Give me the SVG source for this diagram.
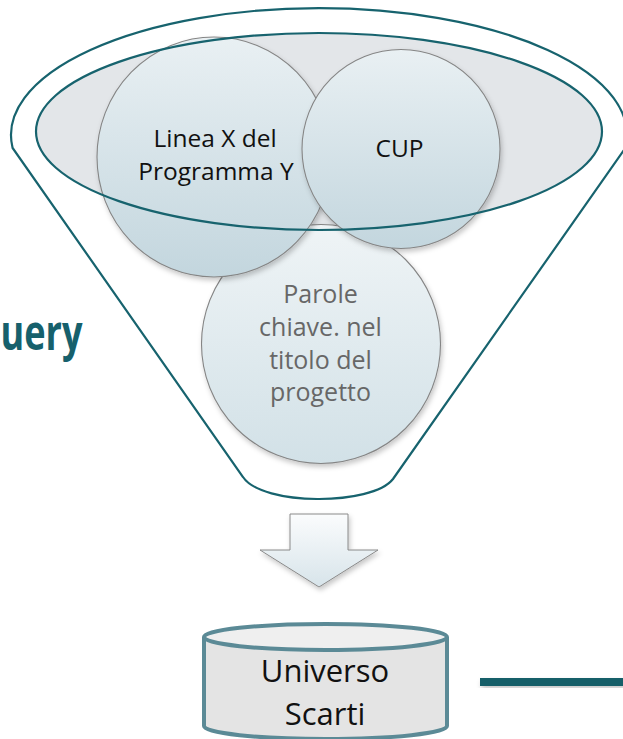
<svg xmlns="http://www.w3.org/2000/svg" width="623" height="739" viewBox="0 0 623 739">
  <style>
    .teal { fill: none; stroke: #17636e; stroke-width: 2.2; }
    .bubble { stroke: #858585; stroke-width: 1.1; }
    .t { font-family: "Open Sans", "Noto Sans", "DejaVu Sans", sans-serif; text-anchor: middle; }
    .dark { fill: #111111; font-size: 24.5px; }
    .faded { fill: #676767; font-size: 25px; }
    .cyl { font-size: 31px; fill: #111111; }
  </style>
  <defs>
    <linearGradient id="gBubble" x1="0" y1="0" x2="0" y2="1">
      <stop offset="0" stop-color="#e9f0f3"/>
      <stop offset="1" stop-color="#c3d6de"/>
    </linearGradient>
    <linearGradient id="gBubbleLight" x1="0" y1="0" x2="0" y2="1">
      <stop offset="0" stop-color="#eff4f6"/>
      <stop offset="1" stop-color="#d2e1e7"/>
    </linearGradient>
    <linearGradient id="gArrow" x1="0" y1="0" x2="0" y2="1">
      <stop offset="0" stop-color="#fbfcfd"/>
      <stop offset="1" stop-color="#d7e4ea"/>
    </linearGradient>
    <filter id="shadow" x="-20%" y="-20%" width="140%" height="140%">
      <feDropShadow dx="1.5" dy="3" stdDeviation="2.5" flood-color="#000000" flood-opacity="0.22"/>
    </filter>
  </defs>

  <g id="funnel">
    <path class="teal" d="M 12.6 148 A 308 127 0 1 1 625.4 148 L 393 479 C 372 506 262 506 243 477 Z"/>
    <ellipse id="funnel-rim-fill" cx="319" cy="131.5" rx="283" ry="98.5" fill="#e3e6e9"/>
  </g>

  <g id="node-parole" filter="url(#shadow)">
    <ellipse class="bubble" cx="321" cy="344" rx="119.5" ry="119.5" fill="url(#gBubbleLight)"/>
  </g>
  <g id="node-linea" filter="url(#shadow)">
    <ellipse class="bubble" cx="214" cy="157" rx="117" ry="120" fill="url(#gBubble)"/>
  </g>
  <g id="node-cup" filter="url(#shadow)">
    <ellipse class="bubble" cx="401" cy="149" rx="99" ry="99.5" fill="url(#gBubble)"/>
  </g>

  <g id="funnel-rim">
    <ellipse class="teal" cx="319" cy="131.5" rx="283" ry="98.5" stroke-width="2.5"/>
  </g>

  <g id="labels">
    <text class="t dark" x="215" y="147">Linea X del</text>
    <text class="t dark" x="216" y="180">Programma Y</text>
    <text class="t dark" x="399.5" y="157">CUP</text>
    <text class="t faded" x="320.5" y="303">Parole</text>
    <text class="t faded" x="320.5" y="336">chiave. nel</text>
    <text class="t faded" x="320.5" y="369">titolo del</text>
    <text class="t faded" x="320.5" y="401">progetto</text>
  </g>

  <g id="query-label">
    <text x="0.5" y="350" font-family="'Liberation Sans Narrow', 'Open Sans', sans-serif" font-weight="bold" font-size="48" fill="#16606c" textLength="82" lengthAdjust="spacingAndGlyphs">uery</text>
  </g>

  <g id="arrow" filter="url(#shadow)">
    <polygon points="290,514 348,514 348,550 378,550 319,587 260,550 290,550" fill="url(#gArrow)" stroke="#8a8a8a" stroke-width="1"/>
  </g>

  <g id="node-universo">
    <path d="M 204 637 L 204 726 A 121.5 13 0 0 0 447 726 L 447 637" fill="#e4e4e4" stroke="#5b8a96" stroke-width="4"/>
    <ellipse cx="325.5" cy="637" rx="121.5" ry="13" fill="#efefef" stroke="#5b8a96" stroke-width="4"/>
    <text class="t cyl" x="325" y="682">Universo</text>
    <text class="t cyl" x="325" y="725">Scarti</text>
  </g>

  <g id="connectors">
    <rect x="480" y="678" width="145" height="8" fill="#155e69" filter="url(#shadow)"/>
  </g>
</svg>
